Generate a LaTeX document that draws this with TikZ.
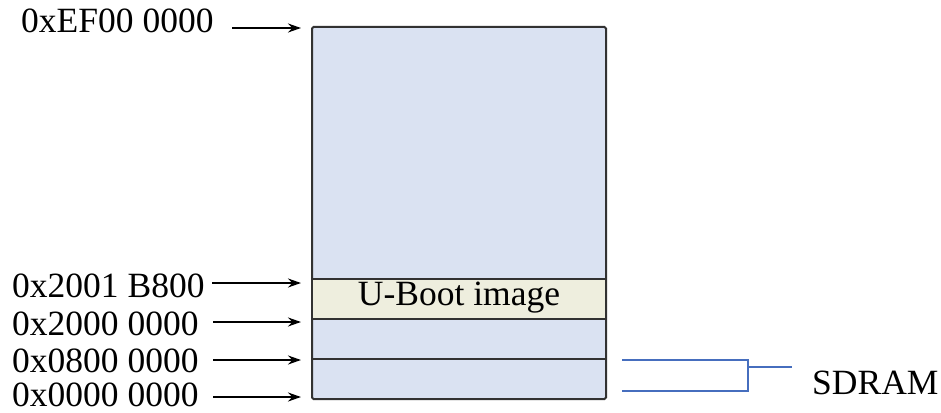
\documentclass[tikz,border=0pt]{standalone}
\usepackage{fontspec}
\setmainfont{Liberation Serif}
\usetikzlibrary{arrows.meta}
\definecolor{memfill}{RGB}{218,226,242}
\definecolor{bootfill}{RGB}{238,238,222}
\definecolor{memedge}{RGB}{50,50,50}
\definecolor{brace}{RGB}{70,110,190}
\tikzset{
  addr/.style={anchor=base west, inner sep=0pt, font=\fontsize{35.5}{40}\selectfont},
  ptr/.style={-{Stealth[length=13pt,width=9pt]}, line width=1.9pt, black},
  region/.style={draw=memedge, line width=2pt},
  bracket/.style={draw=brace, line width=1.9pt}
}
\begin{document}
\begin{tikzpicture}[x=1pt,y=-1pt]
\useasboundingbox (0,0) rectangle (941,412);
% memory map column
\filldraw[region, fill=memfill, rounded corners=1.5pt] (312,27) rectangle (606,399);
\filldraw[region, fill=bootfill] (312,279) rectangle (606,319);
\node[inner sep=0pt, font=\fontsize{35.5}{40}\selectfont] (boot) at (459,298) {U-Boot image};
\draw[region] (312,359) -- (606,359);
% address labels
\node[addr] (aTop) at (21,33) {0xEF00 0000};
\node[addr] (aBoot) at (12,297) {0x2001 B800};
\node[addr] (aHigh) at (12,335) {0x2000 0000};
\node[addr] (aSd) at (12,372) {0x0800 0000};
\node[addr] (aZero) at (12,406) {0x0000 0000};
% pointer arrows
\coordinate (sTop) at (232,28);  \coordinate (eTop) at (301,28);
\coordinate (sBoot) at (212,283); \coordinate (eBoot) at (301,283);
\coordinate (sHigh) at (213,322); \coordinate (eHigh) at (301,322);
\coordinate (sSd) at (213,360);  \coordinate (eSd) at (301,360);
\coordinate (sZero) at (213,397); \coordinate (eZero) at (301,397);
\draw[ptr] (sTop) -- (eTop);
\draw[ptr] (sBoot) -- (eBoot);
\draw[ptr] (sHigh) -- (eHigh);
\draw[ptr] (sSd) -- (eSd);
\draw[ptr] (sZero) -- (eZero);
% SDRAM bracket
\node[addr] (sdram) at (812,394) {SDRAM};
\coordinate (bTop) at (622,360);
\coordinate (bBot) at (622,391);
\coordinate (bStub) at (792,367);
\draw[bracket] (bTop) -- (748,360) -- (748,391) -- (bBot);
\draw[bracket] (748,367) -- (bStub);
\end{tikzpicture}
\end{document}
